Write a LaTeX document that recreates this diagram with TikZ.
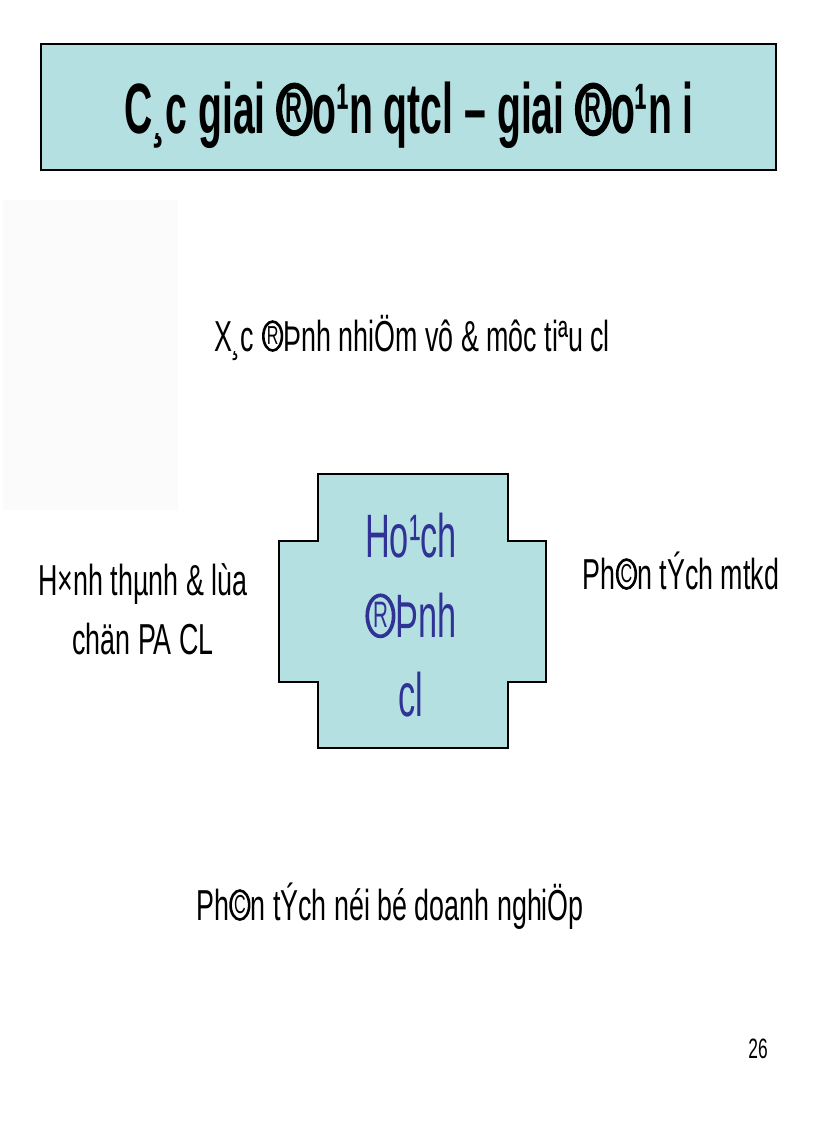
\documentclass[tikz,border=0pt]{standalone}
\usepackage{fontspec}
\setmainfont{Liberation Sans}
\newfontfamily\regfont[FakeStretch=0.62]{Liberation Sans}
\newfontfamily\titfont[FakeStretch=0.55]{Liberation Sans}
\newfontfamily\ctrfont[FakeStretch=0.56]{Liberation Sans}
\definecolor{boxfill}{RGB}{180,224,226}
\definecolor{ctrtext}{RGB}{48,50,150}
\definecolor{faint}{RGB}{252,251,252}
% full-size circled letter (the legacy font draws these at cap height)
\newcommand\circmark[3]{\makebox[#1][c]{\tikz[overlay,baseline=0pt,x=1em,y=1em]\draw[draw=., line width=#2] (0,0.345) ellipse [x radius=0.215,y radius=0.335];\makebox[0pt][c]{\raisebox{0.16em}{\scalebox{0.6}{#3}}}}}
\newcommand\regmk{\circmark{0.5em}{0.06em}{R}}
\newcommand\regmkb{\circmark{0.5em}{0.085em}{R}}
\newcommand\copmk{\circmark{0.5em}{0.06em}{C}}
\tikzset{
  txt/.style={inner sep=0pt, anchor=base},
  regtxt/.style={txt, font=\regfont\fontsize{32.5}{40}\selectfont},
  tittxt/.style={txt, font=\titfont\bfseries\fontsize{53.4}{60}\selectfont},
  ctrtxt/.style={txt, text=ctrtext, font=\ctrfont\fontsize{46}{56}\selectfont},
  boxline/.style={draw=black, line width=1.3pt, fill=boxfill}
}
\begin{document}
\begin{tikzpicture}[x=0.75pt,y=-0.75pt]
\useasboundingbox (0,0) rectangle (816,1123);
\fill[white] (0,0) rectangle (816,1123);
\fill[faint] (3,200) rectangle (178,510);
% title
\node[boxline, inner sep=0pt, minimum width=551.25pt, minimum height=94.5pt] (titlebox) at (408.5,107) {};
\node[tittxt] (title) at (409,134) {C¸c giai \regmkb o¹n qtcl – giai \regmkb o¹n i};
% top
\node[regtxt] (top) at (412,351) {X¸c \regmk Þnh nhiÖm vô \& môc tiªu cl};
% center cross
\draw[boxline] (318,474) -- (508,474) -- (508,541) -- (546,541) -- (546,682) -- (508,682)
  -- (508,748) -- (318,748) -- (318,682) -- (279,682) -- (279,541) -- (318,541) -- cycle;
\node[ctrtxt] (c1) at (411,557) {Ho¹ch};
\node[ctrtxt] (c2) at (411,637) {\regmk Þnh};
\node[ctrtxt] (c3) at (411,716) {cl};
% left
\node[regtxt] (l1) at (143,595) {H×nh thµnh \& lùa};
\node[regtxt] (l2) at (143,654) {chän PA CL};
% right
\node[regtxt] (r1) at (681,589) {Ph\copmk n tÝch mtkd};
% bottom
\node[regtxt] (b1) at (390,920) {Ph\copmk n tÝch néi bé doanh nghiÖp};
% page number
\node[txt, font=\regfont\fontsize{21}{24}\selectfont] (pg) at (758,1058) {26};
\end{tikzpicture}
\end{document}
